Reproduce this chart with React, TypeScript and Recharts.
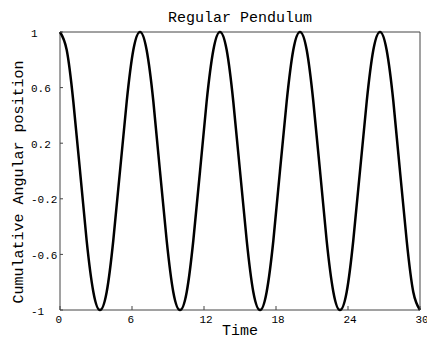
import React from "react";
import { LineChart, Line, XAxis, YAxis, ReferenceArea, Customized } from "recharts";

// readings (12 samples per swing period)
const times = [
  0, 0.56, 1.11, 1.67, 2.22, 2.78, 3.33, 3.89, 4.44, 5, 5.56, 6.11,
  6.67, 7.22, 7.78, 8.33, 8.89, 9.44, 10, 10.56, 11.11, 11.67, 12.22, 12.78,
  13.33, 13.89, 14.44, 15, 15.56, 16.11, 16.67, 17.22, 17.78, 18.33, 18.89, 19.44,
  20, 20.56, 21.11, 21.67, 22.22, 22.78, 23.33, 23.89, 24.44, 25, 25.56, 26.11,
  26.67, 27.22, 27.78, 28.33, 28.89, 29.44, 30,
];
const angle = [
  1, 0.87, 0.5, 0, -0.5, -0.87, -1, -0.87, -0.5, 0, 0.5, 0.87,
  1, 0.87, 0.5, 0, -0.5, -0.87, -1, -0.87, -0.5, 0, 0.5, 0.87,
  1, 0.87, 0.5, 0, -0.5, -0.87, -1, -0.87, -0.5, 0, 0.5, 0.87,
  1, 0.87, 0.5, 0, -0.5, -0.87, -1, -0.87, -0.5, 0, 0.5, 0.87,
  1, 0.87, 0.5, 0, -0.5, -0.87, -1,
];
const xTicks = [0, 6, 12, 18, 24, 30];
const yTicks = [-1, -0.6, -0.2, 0.2, 0.6, 1];

const data = times.map((t, i) => ({ t, a: angle[i] }));

const FONT = "'Liberation Mono', 'DejaVu Sans Mono', monospace";
const FRAME = "#444";

const XTick = (props: any) => {
  const { x, y, payload } = props;
  return (
    <g>
      <line x1={x} x2={x} y1={y} y2={y - 4} stroke={FRAME} />
      <text x={x - 4.5} y={y + 13} fontSize={11} fontFamily={FONT} fill="#000" textAnchor="start">
        {payload.value}
      </text>
    </g>
  );
};

const YTick = (props: any) => {
  const { x, y, payload } = props;
  return (
    <g>
      <line x1={x} x2={x + 3} y1={y} y2={y} stroke={FRAME} />
      <text x={x - 29} y={y + 4.5} fontSize={11} fontFamily={FONT} fill="#000" textAnchor="start">
        {payload.value}
      </text>
    </g>
  );
};

const Titles = () => (
  <g fontFamily={FONT} fill="#000">
    <text x={240} y={21.5} fontSize={15} textAnchor="middle">Regular Pendulum</text>
    <text x={240} y={335} fontSize={15} textAnchor="middle">Time</text>
    <text x={23} y={182} fontSize={15} textAnchor="middle" transform="rotate(-90 23 182)">
      Cumulative Angular position
    </text>
  </g>
);

export default function App() {
  return (
    <div style={{ position: "absolute", left: 0, top: 0, width: 427, height: 339, background: "#fff" }}>
      <LineChart width={427} height={339} data={data} margin={{ top: 32, right: 7, bottom: 0, left: 0 }}>
        <XAxis
          dataKey="t"
          type="number"
          domain={[0, 30]}
          ticks={xTicks}
          height={29}
          axisLine={false}
          tickLine={false}
          tickSize={0}
          tickMargin={0}
          tick={<XTick />}
          interval={0}
        />
        <YAxis
          type="number"
          domain={[-1, 1]}
          ticks={yTicks}
          width={60}
          axisLine={false}
          tickLine={false}
          tickSize={0}
          tickMargin={0}
          tick={<YTick />}
          interval={0}
        />
        <ReferenceArea x1={0} x2={30} y1={-1} y2={1} fill="none" stroke={FRAME} strokeWidth={1} />
        <Line
          dataKey="a"
          type="natural"
          stroke="#000"
          strokeWidth={2.5}
          dot={false}
          isAnimationActive={false}
        />
        <Customized component={Titles} />
      </LineChart>
    </div>
  );
}
